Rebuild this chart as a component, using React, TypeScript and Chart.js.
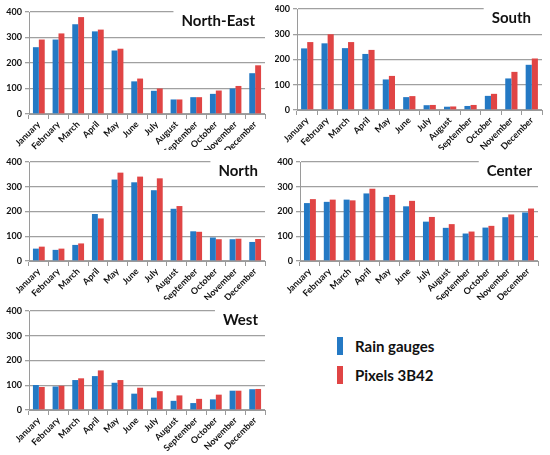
import { useEffect, useRef } from "react";
import { Chart, registerables } from "chart.js";

Chart.register(...registerables);

const months = [
  "January", "February", "March", "April", "May", "June",
  "July", "August", "September", "October", "November", "December",
];

const yTicks = [0, 50, 100, 150, 200, 250, 300, 350, 400];

// rain gauges / pixels 3B42, per region
const northEastGauges = [262, 292, 352, 324, 249, 128, 91, 57, 66, 79, 100, 160];
const northEastPixels = [292, 316, 380, 331, 256, 139, 100, 57, 66, 92, 110, 191];

const southGauges = [244, 264, 245, 222, 121, 51, 19, 13, 16, 56, 125, 179];
const southPixels = [269, 300, 269, 238, 135, 55, 20, 14, 20, 64, 151, 204];

const northGauges = [50, 45, 65, 190, 329, 318, 286, 211, 120, 95, 88, 77];
const northPixels = [58, 50, 71, 172, 357, 341, 334, 222, 118, 88, 90, 89];

const centerGauges = [234, 239, 248, 273, 259, 221, 159, 134, 111, 135, 177, 196];
const centerPixels = [250, 248, 245, 292, 267, 243, 178, 149, 119, 142, 188, 212];

const westGauges = [101, 95, 121, 137, 110, 66, 50, 37, 28, 43, 78, 84];
const westPixels = [93, 98, 128, 160, 121, 90, 76, 59, 45, 62, 78, 85];

const seriesNames = ["Rain gauges", "Pixels 3B42"];
const BLUE = "#2479c4";
const RED = "#e04545";
const FONT = "Lato, 'Open Sans', sans-serif";

const cornerTitle = {
  id: "cornerTitle",
  afterDraw(chart: any, _args: any, opts: any) {
    if (!opts || !opts.text) return;
    const { ctx, chartArea } = chart;
    ctx.save();
    ctx.font = `bold 15px ${FONT}`;
    const w = ctx.measureText(opts.text).width;
    const right = chartArea.right - opts.inset;
    ctx.fillStyle = "#ffffff";
    ctx.fillRect(right - w - 8, chartArea.top - 4, w + opts.inset + 8, 22);
    ctx.fillStyle = "#111111";
    ctx.textAlign = "right";
    ctx.textBaseline = "middle";
    ctx.fillText(opts.text, right, chartArea.top + 9);
    ctx.restore();
  },
};

interface PanelProps {
  title: string;
  gauges: number[];
  pixels: number[];
  left: number;
  top: number;
  width: number;
  height: number;
  plotLeft: number;
  plotRight: number;
  plotTop: number;
  plotBottom: number;
  inset: number;
}

function RegionChart(p: PanelProps) {
  const chartRef = useRef<HTMLCanvasElement>(null);
  const chartInstance = useRef<Chart | null>(null);

  useEffect(() => {
    if (!chartRef.current) return;
    const ctx = chartRef.current.getContext("2d");
    if (!ctx) return;

    if (chartInstance.current) {
      chartInstance.current.destroy();
    }

    chartInstance.current = new Chart(ctx, {
      type: "bar",
      data: {
        labels: months,
        datasets: [
          {
            label: seriesNames[0],
            data: p.gauges,
            backgroundColor: BLUE,
            borderWidth: 0,
            categoryPercentage: 0.6,
            barPercentage: 1,
          },
          {
            label: seriesNames[1],
            data: p.pixels,
            backgroundColor: RED,
            borderWidth: 0,
            categoryPercentage: 0.6,
            barPercentage: 1,
          },
        ],
      },
      plugins: [cornerTitle],
      options: {
        responsive: false,
        animation: false,
        layout: {
          padding: {
            left: 0,
            top: p.plotTop,
            right: p.width - p.plotRight,
            bottom: 0,
          },
        },
        plugins: {
          legend: { display: false },
          tooltip: { enabled: false },
          cornerTitle: { text: p.title, inset: p.inset },
        } as any,
        scales: {
          x: {
            grid: {
              drawOnChartArea: false,
              offset: true,
              tickLength: 5,
              color: "#9a9a9a",
            },
            border: { color: "#9a9a9a", width: 1 },
            ticks: {
              minRotation: 45,
              maxRotation: 45,
              autoSkip: false,
              padding: 0,
              color: "#111",
              font: { family: FONT, size: 9, weight: "bold" },
            },
            afterFit(scale: any) {
              scale.height = p.height - p.plotBottom;
            },
          },
          y: {
            min: 0,
            max: 400,
            afterBuildTicks(scale: any) {
              scale.ticks = yTicks.map((v) => ({ value: v }));
            },
            grid: {
              color: "#a0a0a0",
              lineWidth: 1.3,
              tickLength: 4,
            },
            border: { color: "#9a9a9a", width: 1 },
            ticks: {
              padding: 3,
              color: "#111",
              font: { family: FONT, size: 9, weight: "bold" },
            },
            afterFit(scale: any) {
              scale.width = p.plotLeft;
            },
          },
        },
      },
    });

    return () => {
      if (chartInstance.current) {
        chartInstance.current.destroy();
        chartInstance.current = null;
      }
    };
  }, []);

  return (
    <div
      style={{
        position: "absolute",
        left: p.left,
        top: p.top,
        width: p.width,
        height: p.height,
      }}
    >
      <canvas ref={chartRef} width={p.width} height={p.height} style={{ width: p.width, height: p.height }} />
    </div>
  );
}

function LegendItem({ color, label, top }: { color: string; label: string; top: number }) {
  return (
    <div style={{ position: "absolute", left: 337, top, height: 18, display: "flex", alignItems: "center" }}>
      <div style={{ width: 6, height: 18, background: color }} />
      <span
        style={{
          marginLeft: 12,
          fontFamily: FONT,
          fontWeight: "bold",
          fontSize: 15,
          color: "#111",
        }}
      >
        {label}
      </span>
    </div>
  );
}

export default function App() {
  return (
    <div
      style={{
        position: "absolute",
        left: 0,
        top: 0,
        width: 550,
        height: 455,
        background: "#fff",
        overflow: "hidden",
      }}
    >
      <RegionChart title="North-East" gauges={northEastGauges} pixels={northEastPixels}
        left={0} top={0} width={275} height={150}
        plotLeft={29} plotRight={265} plotTop={12} plotBottom={114} inset={10} />
      <RegionChart title="South" gauges={southGauges} pixels={southPixels}
        left={275} top={0} width={275} height={150}
        plotLeft={22} plotRight={267} plotTop={9} plotBottom={110} inset={11} />
      <RegionChart title="North" gauges={northGauges} pixels={northPixels}
        left={0} top={150} width={275} height={150}
        plotLeft={29} plotRight={265} plotTop={12} plotBottom={111} inset={7} />
      <RegionChart title="Center" gauges={centerGauges} pixels={centerPixels}
        left={275} top={150} width={275} height={150}
        plotLeft={25} plotRight={263} plotTop={12} plotBottom={111} inset={6} />
      <RegionChart title="West" gauges={westGauges} pixels={westPixels}
        left={0} top={300} width={275} height={155}
        plotLeft={29} plotRight={265} plotTop={11} plotBottom={110} inset={7} />
      <LegendItem color={BLUE} label={seriesNames[0]} top={337} />
      <LegendItem color={RED} label={seriesNames[1]} top={366} />
    </div>
  );
}
